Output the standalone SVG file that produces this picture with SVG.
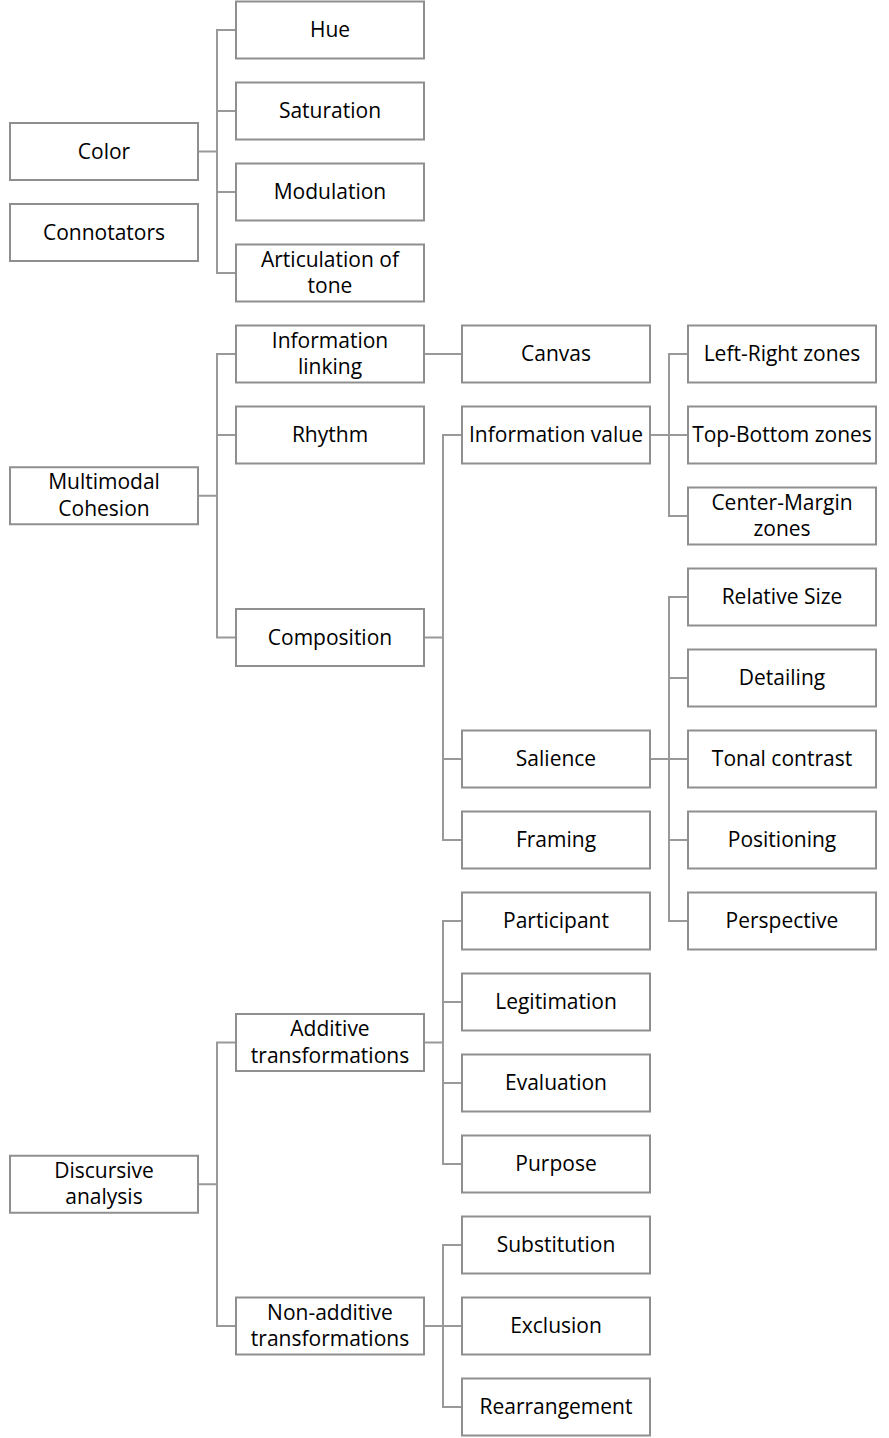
<svg xmlns="http://www.w3.org/2000/svg" width="889" height="1438" viewBox="0 0 889 1438">
<style>
.b{fill:#fff;stroke:#8f8f8f;stroke-width:2}
.t{font-family:"Open Sans","Liberation Sans",sans-serif;font-size:21px;fill:#000;text-anchor:middle}
.c{fill:none;stroke:#999;stroke-width:2}
</style>
<rect width="889" height="1438" fill="#fff"/>
<g id="connectors" class="c">
<path d="M198 151.5H217M236 30H217V273H236M217 111H236M217 192H236"/>
<path d="M198 495.75H217M236 354H217V637.5H236M217 435H236"/>
<path d="M424 354H462"/>
<path d="M424 637.5H443M462 435H443V840H462M443 759H462"/>
<path d="M650 435H688M688 354H669V516H688"/>
<path d="M650 759H688M688 597H669V921H688M669 678H688M669 840H688"/>
<path d="M198 1184.25H217M236 1042.5H217V1326H236"/>
<path d="M424 1042.5H443M462 921H443V1164H462M443 1002H462M443 1083H462"/>
<path d="M424 1326H462M462 1245H443V1407H462"/>
</g>
<g id="n-hue"><rect class="b" x="236" y="1.5" width="188" height="57"/><text class="t" x="330" y="37">Hue</text></g>
<g id="n-saturation"><rect class="b" x="236" y="82.5" width="188" height="57"/><text class="t" x="330" y="118">Saturation</text></g>
<g id="n-modulation"><rect class="b" x="236" y="163.5" width="188" height="57"/><text class="t" x="330" y="199">Modulation</text></g>
<g id="n-articulation"><rect class="b" x="236" y="244.5" width="188" height="57"/><text class="t" x="330" y="266.5">Articulation of</text><text class="t" x="330" y="293">tone</text></g>
<g id="n-color"><rect class="b" x="10" y="123" width="188" height="57"/><text class="t" x="104" y="158.5">Color</text></g>
<g id="n-connotators"><rect class="b" x="10" y="204" width="188" height="57"/><text class="t" x="104" y="239.5">Connotators</text></g>
<g id="n-multimodal"><rect class="b" x="10" y="467.25" width="188" height="57"/><text class="t" x="104" y="489.25">Multimodal</text><text class="t" x="104" y="515.75">Cohesion</text></g>
<g id="n-infolinking"><rect class="b" x="236" y="325.5" width="188" height="57"/><text class="t" x="330" y="347.5">Information</text><text class="t" x="330" y="374">linking</text></g>
<g id="n-rhythm"><rect class="b" x="236" y="406.5" width="188" height="57"/><text class="t" x="330" y="442">Rhythm</text></g>
<g id="n-composition"><rect class="b" x="236" y="609" width="188" height="57"/><text class="t" x="330" y="644.5">Composition</text></g>
<g id="n-canvas"><rect class="b" x="462" y="325.5" width="188" height="57"/><text class="t" x="556" y="361">Canvas</text></g>
<g id="n-infovalue"><rect class="b" x="462" y="406.5" width="188" height="57"/><text class="t" x="556" y="442">Information value</text></g>
<g id="n-salience"><rect class="b" x="462" y="730.5" width="188" height="57"/><text class="t" x="556" y="766">Salience</text></g>
<g id="n-framing"><rect class="b" x="462" y="811.5" width="188" height="57"/><text class="t" x="556" y="847">Framing</text></g>
<g id="n-leftright"><rect class="b" x="688" y="325.5" width="188" height="57"/><text class="t" x="782" y="361">Left-Right zones</text></g>
<g id="n-topbottom"><rect class="b" x="688" y="406.5" width="188" height="57"/><text class="t" x="782" y="442">Top-Bottom zones</text></g>
<g id="n-centermargin"><rect class="b" x="688" y="487.5" width="188" height="57"/><text class="t" x="782" y="509.5">Center-Margin</text><text class="t" x="782" y="536">zones</text></g>
<g id="n-relsize"><rect class="b" x="688" y="568.5" width="188" height="57"/><text class="t" x="782" y="604">Relative Size</text></g>
<g id="n-detailing"><rect class="b" x="688" y="649.5" width="188" height="57"/><text class="t" x="782" y="685">Detailing</text></g>
<g id="n-tonal"><rect class="b" x="688" y="730.5" width="188" height="57"/><text class="t" x="782" y="766">Tonal contrast</text></g>
<g id="n-positioning"><rect class="b" x="688" y="811.5" width="188" height="57"/><text class="t" x="782" y="847">Positioning</text></g>
<g id="n-perspective"><rect class="b" x="688" y="892.5" width="188" height="57"/><text class="t" x="782" y="928">Perspective</text></g>
<g id="n-discursive"><rect class="b" x="10" y="1155.75" width="188" height="57"/><text class="t" x="104" y="1177.75">Discursive</text><text class="t" x="104" y="1204.25">analysis</text></g>
<g id="n-additive"><rect class="b" x="236" y="1014" width="188" height="57"/><text class="t" x="330" y="1036">Additive</text><text class="t" x="330" y="1062.5">transformations</text></g>
<g id="n-nonadditive"><rect class="b" x="236" y="1297.5" width="188" height="57"/><text class="t" x="330" y="1319.5">Non-additive</text><text class="t" x="330" y="1346">transformations</text></g>
<g id="n-participant"><rect class="b" x="462" y="892.5" width="188" height="57"/><text class="t" x="556" y="928">Participant</text></g>
<g id="n-legitimation"><rect class="b" x="462" y="973.5" width="188" height="57"/><text class="t" x="556" y="1009">Legitimation</text></g>
<g id="n-evaluation"><rect class="b" x="462" y="1054.5" width="188" height="57"/><text class="t" x="556" y="1090">Evaluation</text></g>
<g id="n-purpose"><rect class="b" x="462" y="1135.5" width="188" height="57"/><text class="t" x="556" y="1171">Purpose</text></g>
<g id="n-substitution"><rect class="b" x="462" y="1216.5" width="188" height="57"/><text class="t" x="556" y="1252">Substitution</text></g>
<g id="n-exclusion"><rect class="b" x="462" y="1297.5" width="188" height="57"/><text class="t" x="556" y="1333">Exclusion</text></g>
<g id="n-rearrangement"><rect class="b" x="462" y="1378.5" width="188" height="57"/><text class="t" x="556" y="1414">Rearrangement</text></g>
</svg>
